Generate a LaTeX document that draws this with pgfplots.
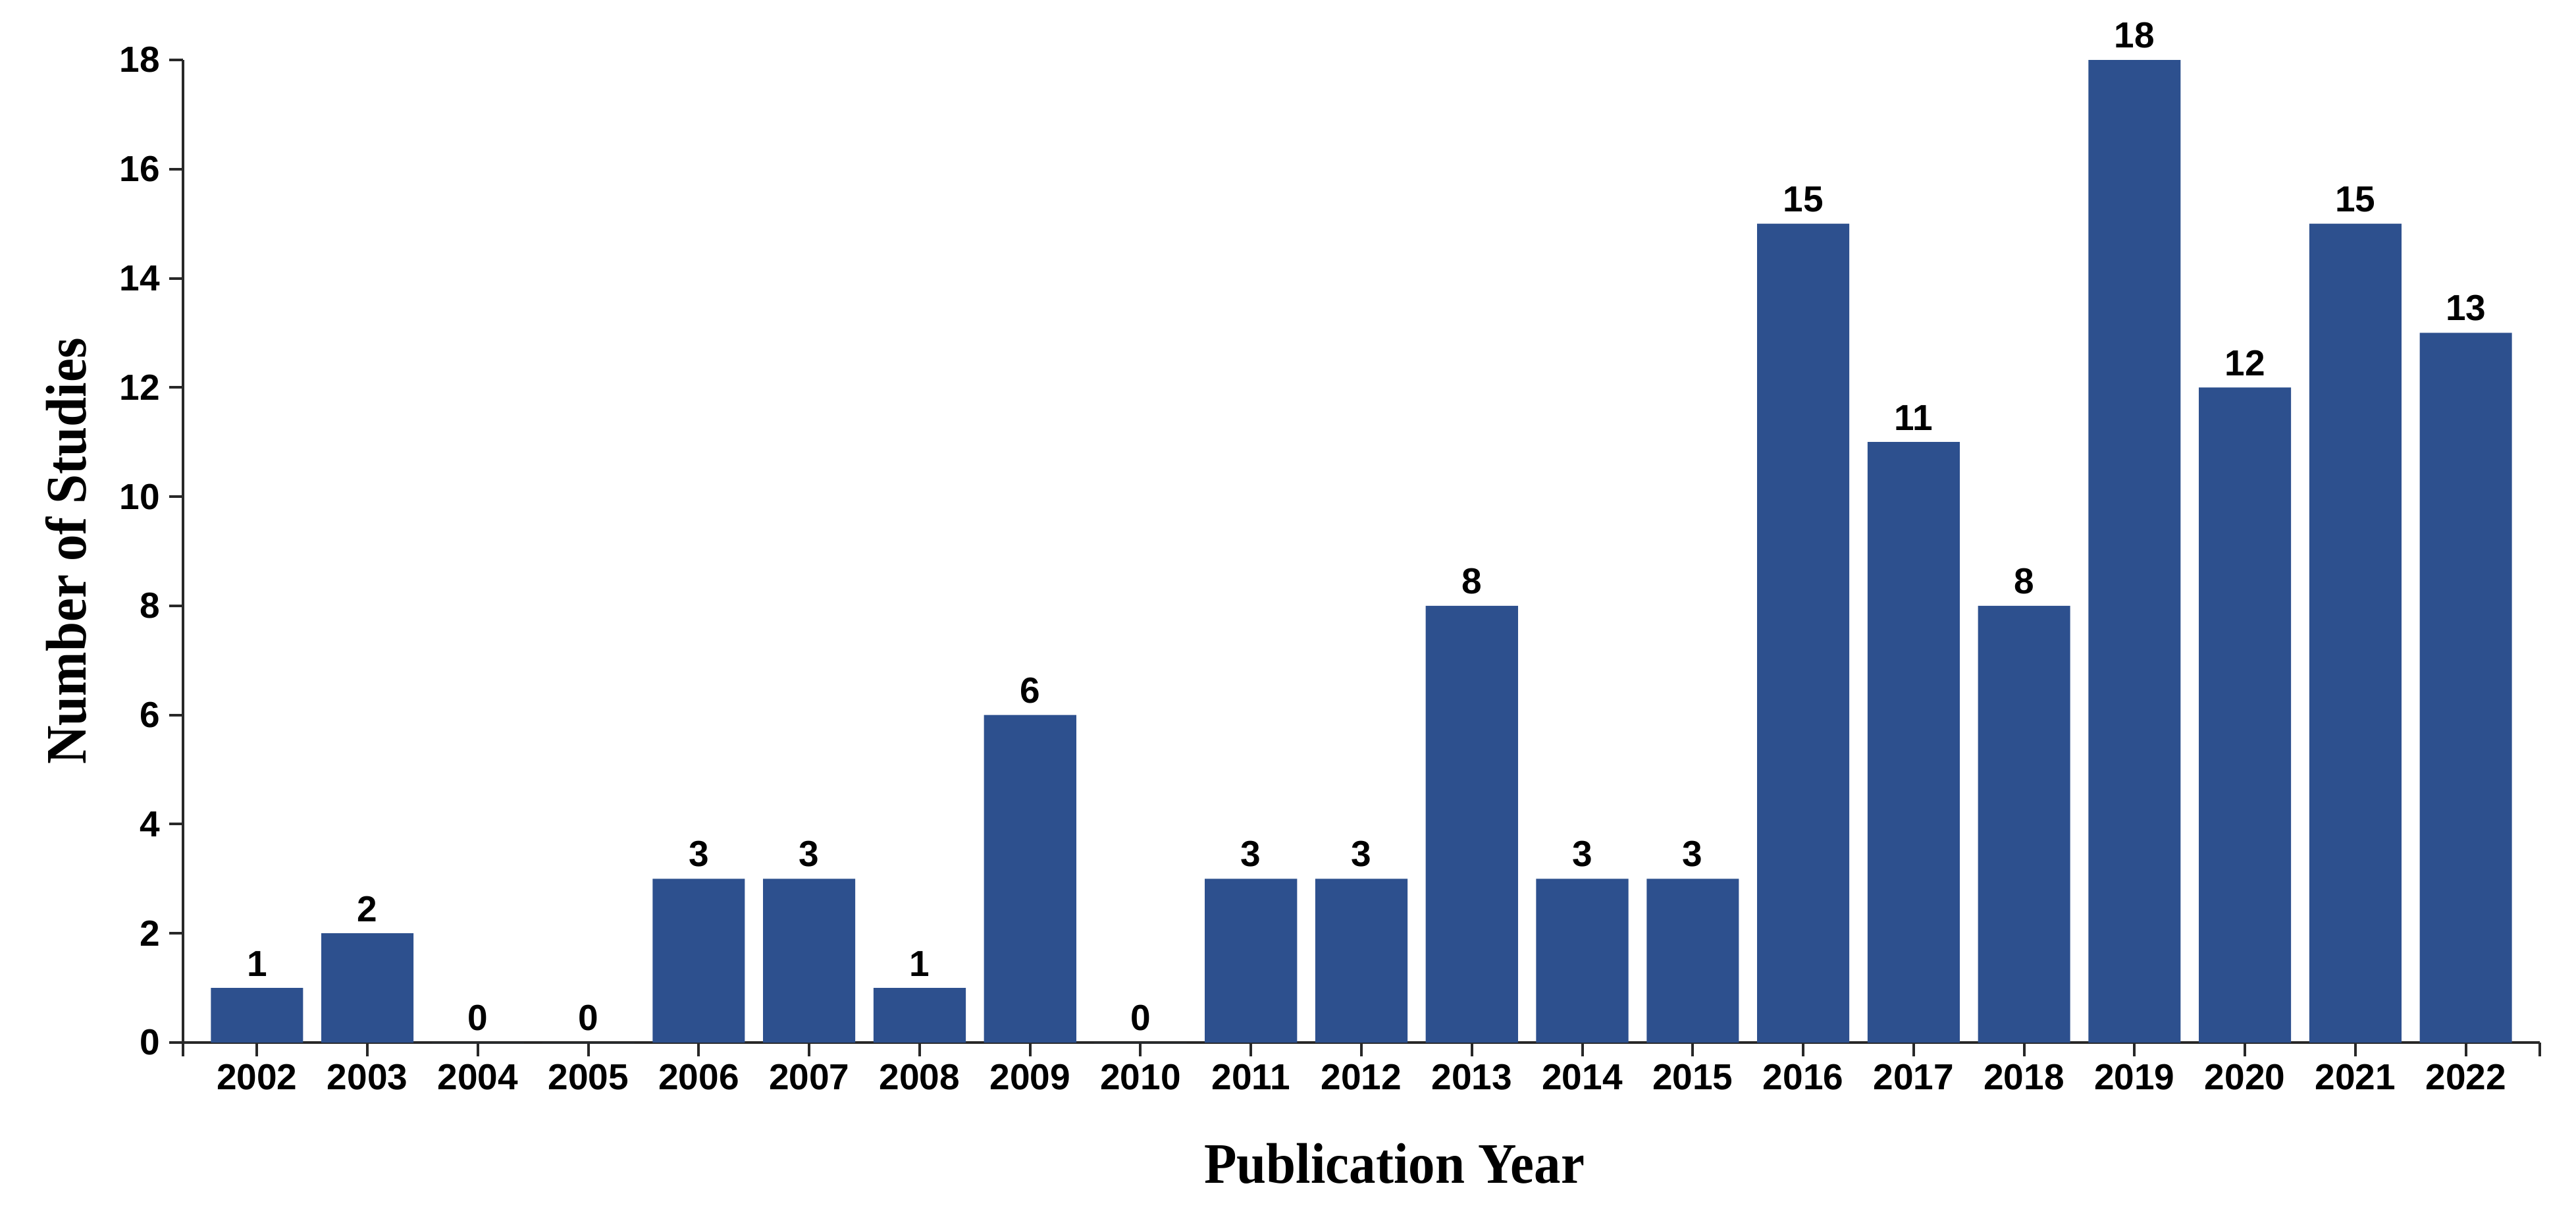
\documentclass[border=0pt]{standalone}
\usepackage{fontspec}
\usepackage{pgfplots}
\pgfplotsset{compat=1.18}
\newfontfamily\sansb{Liberation Sans}
\newfontfamily\titlefont{Liberation Serif}[FakeStretch=0.93]
\definecolor{barblue}{RGB}{45,80,142}
\definecolor{axisgray}{RGB}{40,40,40}
\begin{document}
\begin{tikzpicture}
\useasboundingbox (0,0) rectangle (782.6pt,370.6pt);
\begin{axis}[
  at={(55.6pt,54pt)}, anchor=south west,
  scale only axis, width=716pt, height=298.4pt,
  ybar, bar width=0.835,
  xmin=-0.67, xmax=20.67, ymin=0, ymax=18,
  enlargelimits=false, clip=false,
  axis x line*=bottom, axis y line*=left,
  axis line style={line width=0.8pt, axisgray},
  tick align=outside, major tick length=4.2pt,
  tick style={line width=0.8pt, axisgray},
  xtick={0,...,20},
  xticklabels={2002,2003,2004,2005,2006,2007,2008,2009,2010,2011,2012,2013,2014,2015,2016,2017,2018,2019,2020,2021,2022},
  extra x ticks={-0.67,20.67}, extra x tick labels={},
  ytick={0,2,...,18},
  /pgf/number format/assume math mode=true,
  tick label style={font=\sansb\bfseries\fontsize{11}{13}\selectfont, inner sep=0pt},
  xticklabel style={anchor=north, yshift=-2.2pt},
  yticklabel style={anchor=east, xshift=-2.6pt},
  xlabel={Publication Year},
  ylabel={Number of Studies},
  label style={font=\titlefont\bfseries\fontsize{17.4}{20}\selectfont},
  xlabel style={at={(axis description cs:0.514,-0.1434)}, anchor=base},
  ylabel style={at={(axis description cs:-0.0413,0.5)}, anchor=base, rotate=0},
  nodes near coords,
  every node near coord/.append style={font=\sansb\bfseries\fontsize{11}{13}\selectfont, inner sep=0pt, anchor=south, yshift=3.4pt, text=black},
]
\addplot[fill=barblue, draw=none] coordinates {
  (0,1) (1,2) (2,0) (3,0) (4,3) (5,3) (6,1) (7,6) (8,0) (9,3) (10,3)
  (11,8) (12,3) (13,3) (14,15) (15,11) (16,8) (17,18) (18,12) (19,15) (20,13)
};
\end{axis}
\end{tikzpicture}
\end{document}
